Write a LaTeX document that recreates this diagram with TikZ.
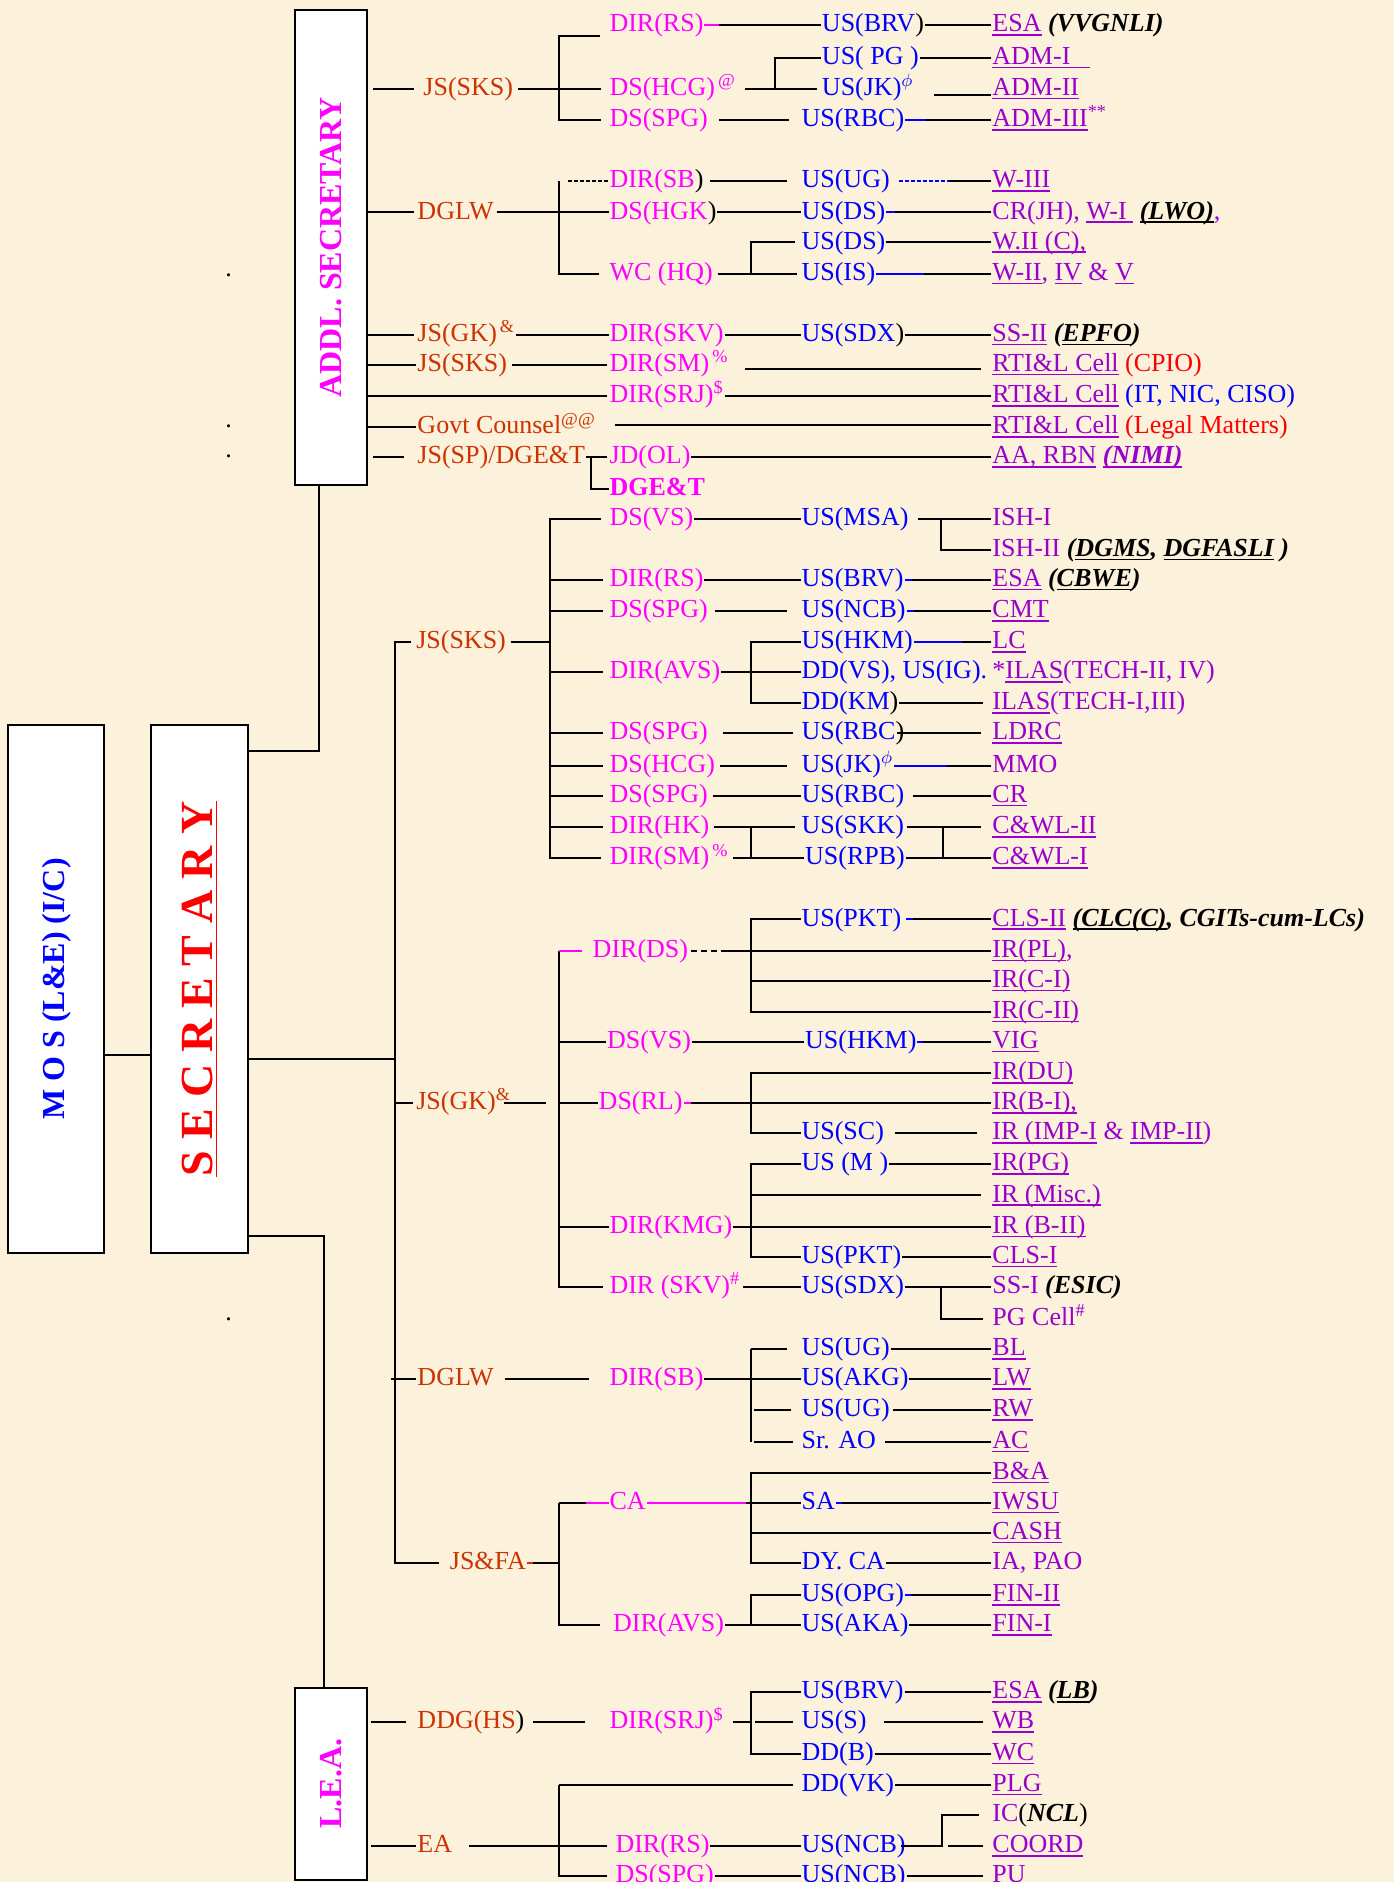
\documentclass[tikz,border=0pt]{standalone}
\usepackage{fontspec}
\setmainfont{Liberation Serif}
\usepackage{graphicx}
\usepackage{xcolor}
\usepackage{tikz}
\usetikzlibrary{calc}

\definecolor{paper}{RGB}{252,242,220}
\definecolor{jscol}{RGB}{204,51,0}
\definecolor{dircol}{RGB}{255,0,255}
\definecolor{uscol}{RGB}{0,0,255}
\definecolor{seccol}{RGB}{153,0,204}
\definecolor{redcol}{RGB}{255,0,0}

% underline at a fixed depth, in the current colour
\newcommand{\undl}[1]{\setbox0\hbox{#1}\rlap{\rule[-2pt]{\wd0}{0.8pt}}\box0\relax}
\newcommand{\bi}[1]{\textbf{\textit{#1}}}

\tikzset{
  lbl/.style={anchor=west, inner sep=0pt, text height=0.66em, text depth=0pt},
  js/.style={lbl, text=jscol},
  dir/.style={lbl, text=dircol},
  us/.style={lbl, text=uscol},
  sect/.style={lbl, text=seccol},
  bx/.style={draw=black, line width=1pt, fill=white, inner sep=0pt},
}

\begin{document}
\begin{tikzpicture}[x=0.6pt, y=-0.6pt, line width=1pt, font=\fontsize{13}{15}\selectfont]
    \fill[paper] (0,0) rectangle (1161,1568);
    \useasboundingbox (0,0) rectangle (1161,1568);

    % boxes
    \node[bx, minimum width=48pt, minimum height=264pt, text=uscol, font=\bfseries\fontsize{16}{18}\selectfont] (mos) at (47,824) {\rotatebox{90}{M O S (L\&E) (I/C)}};
    \node[bx, minimum width=48.6pt, minimum height=264pt, text=redcol, font=\bfseries\fontsize{23}{26}\selectfont] (secy) at (166.5,824) {\rotatebox{90}{\underline{S E C R E T A R Y}}};
    \node[bx, minimum width=36pt, minimum height=237.6pt, text=dircol, font=\bfseries\fontsize{16}{18}\selectfont] (addl) at (276,206) {\rotatebox{90}{ADDL. SECRETARY}};
    \node[bx, minimum width=36pt, minimum height=96pt, text=dircol, font=\bfseries\fontsize{16}{18}\selectfont] (lea) at (276,1486) {\rotatebox{90}{L.E.A.}};

    \begin{scope}[yshift=-1.2pt]
    \node[lbl] (dot1) at (187,223) {.};
    \node[lbl] (dot2) at (187,349) {.};
    \node[lbl] (dot3) at (187,374) {.};
    \node[lbl] (dot4) at (187,1093) {.};

    % ---- addl. secretary
    \node[dir] (a-dirrs) at (507,19) {DIR(RS)};
    \node[us] (a-usbrv) at (684,19) {US(BRV{\color{black})}};
    \node[sect] (a-esa) at (826,19) {\undl{ESA} {\color{black}\bi{(VVGNLI)}}};
    \node[us] (a-uspg) at (684,46) {US( PG )};
    \node[sect] (a-adm1) at (826,46) {\undl{ADM-I\ \ \ }};
    \node[js] (a-jssks) at (352,72) {JS(SKS)};
    \node[dir] (a-dshcg) at (507,72) {DS(HCG)\textsuperscript{\,@}};
    \node[us] (a-usjk) at (684,72) {US(JK)$^\phi$};
    \node[sect] (a-adm2) at (826,72) {\undl{ADM-II}};
    \node[dir] (a-dsspg) at (507,98) {DS(SPG)};
    \node[us] (a-usrbc) at (667,98) {US(RBC)};
    \node[sect] (a-adm3) at (826,98) {\undl{ADM-III}\textsuperscript{**}};

    \node[js] (a-dglw) at (347,175) {DGLW};
    \node[dir] (a-dirsb) at (507,149) {DIR(SB{\color{black})}};
    \node[us] (a-usug) at (667,149) {US(UG)};
    \node[sect] (a-w3) at (826,149) {\undl{W-III}};
    \node[dir] (a-dshgk) at (507,175) {DS(HGK{\color{black})}};
    \node[us] (a-usds) at (667,175) {US(DS)};
    \node[sect] (a-w1) at (826,175) {CR(JH), \undl{W-I\ } {\color{black}\undl{\bi{(LWO)}}},};
    \node[us] (a-usds2) at (667,200) {US(DS)};
    \node[sect] (a-w2c) at (826,200) {\undl{W.II (C),}};
    \node[dir] (a-wchq) at (507,226) {WC (HQ)};
    \node[us] (a-usis) at (667,226) {US(IS)};
    \node[sect] (a-w2) at (826,226) {\undl{W-II}, \undl{IV} \& \undl{V}};

    \node[js] (a-jsgk) at (347,277) {JS(GK)\textsuperscript{\,\&}};
    \node[dir] (a-dirskv) at (507,277) {DIR(SKV)};
    \node[us] (a-ussdx) at (667,277) {US(SDX{\color{black})}};
    \node[sect] (a-ss2) at (826,277) {\undl{SS-II} {\color{black}\bi{(\undl{EPFO})}}};
    \node[js] (a-jssks2) at (347,302) {JS(SKS)};
    \node[dir] (a-dirsm) at (507,302) {DIR(SM)\textsuperscript{\,\%}};
    \node[sect] (a-rti1) at (826,302) {\undl{RTI\&L Cell} {\color{redcol}(CPIO)}};
    \node[dir] (a-dirsrj) at (507,328) {DIR(SRJ)\textsuperscript{\$}};
    \node[sect] (a-rti2) at (826,328) {\undl{RTI\&L Cell} {\color{uscol}(IT, NIC, CISO)}};
    \node[js] (a-govt) at (347,354) {Govt Counsel\textsuperscript{@@}};
    \node[sect] (a-rti3) at (826,354) {\undl{RTI\&L Cell} {\color{redcol}(Legal Matters)}};
    \node[js] (a-jssp) at (347,379) {JS(SP)/DGE\&T};
    \node[dir] (a-jdol) at (507,379) {JD(OL)};
    \node[sect] (a-aa) at (826,379) {\undl{AA, RBN} \undl{\bi{(NIMI)}}};
    \node[dir, font=\fontsize{13}{15}\selectfont\bfseries] (a-dget) at (507,405) {DGE\&T};

    % ---- JS(SKS)
    \node[js] (b-jssks) at (346,533) {JS(SKS)};
    \node[dir] (b-dsvs) at (507,430) {DS(VS)};
    \node[us] (b-usmsa) at (667,430) {US(MSA)};
    \node[sect] (b-ish1) at (826,430) {ISH-I};
    \node[sect] (b-ish2) at (826,456) {ISH-II {\color{black}\bi{(\undl{DGMS}, \undl{DGFASLI} )}}};
    \node[dir] (b-dirrs) at (507,481) {DIR(RS)};
    \node[us] (b-usbrv) at (667,481) {US(BRV)};
    \node[sect] (b-esa) at (826,481) {\undl{ESA} {\color{black}\bi{(\undl{CBWE})}}};
    \node[dir] (b-dsspg) at (507,507) {DS(SPG)};
    \node[us] (b-usncb) at (667,507) {US(NCB)};
    \node[sect] (b-cmt) at (826,507) {\undl{CMT}};
    \node[us] (b-ushkm) at (667,533) {US(HKM)};
    \node[sect] (b-lc) at (826,533) {\undl{LC}};
    \node[dir] (b-diravs) at (507,558) {DIR(AVS)};
    \node[us] (b-ddvs) at (667,558) {DD(VS), US(IG).};
    \node[sect] (b-ilas1) at (826,558) {*\undl{ILAS}(TECH-II, IV)};
    \node[us] (b-ddkm) at (667,584) {DD(KM{\color{black})}};
    \node[sect] (b-ilas2) at (826,584) {\undl{ILAS}(TECH-I,III)};
    \node[dir] (b-dsspg2) at (507,609) {DS(SPG)};
    \node[us] (b-usrbc) at (667,609) {US(RBC{\color{black})}};
    \node[sect] (b-ldrc) at (826,609) {\undl{LDRC}};
    \node[dir] (b-dshcg) at (507,636) {DS(HCG)};
    \node[us] (b-usjk) at (667,636) {US(JK)$^\phi$};
    \node[sect] (b-mmo) at (826,636) {MMO};
    \node[dir] (b-dsspg3) at (507,661) {DS(SPG)};
    \node[us] (b-usrbc2) at (667,661) {US(RBC)};
    \node[sect] (b-cr) at (826,661) {\undl{CR}};
    \node[dir] (b-dirhk) at (507,687) {DIR(HK)};
    \node[us] (b-usskk) at (667,687) {US(SKK)};
    \node[sect] (b-cwl2) at (826,687) {\undl{C\&WL-II}};
    \node[dir] (b-dirsm) at (507,713) {DIR(SM)\textsuperscript{\,\%}};
    \node[us] (b-usrpb) at (670,713) {US(RPB)};
    \node[sect] (b-cwl1) at (826,713) {\undl{C\&WL-I}};

    % ---- JS(GK)
    \node[js] (c-jsgk) at (346,917) {JS(GK)\textsuperscript{\&}};
    \node[us] (c-uspkt) at (667,764) {US(PKT)};
    \node[sect] (c-cls2) at (826,764) {\undl{CLS-II} {\color{black}\bi{\undl{(CLC(C)}, CGITs-cum-LCs)}}};
    \node[dir] (c-dirds) at (493,790) {DIR(DS)};
    \node[sect] (c-irpl) at (826,790) {\undl{IR(PL)},};
    \node[sect] (c-irc1) at (826,815) {\undl{IR(C-I)}};
    \node[sect] (c-irc2) at (826,841) {\undl{IR(C-II)}};
    \node[dir] (c-dsvs) at (505,866) {DS(VS)};
    \node[us] (c-ushkm) at (670,866) {US(HKM)};
    \node[sect] (c-vig) at (826,866) {\undl{VIG}};
    \node[sect] (c-irdu) at (826,892) {\undl{IR(DU)}};
    \node[dir] (c-dsrl) at (498,917) {DS(RL)};
    \node[sect] (c-irb1) at (826,917) {\undl{IR(B-I),}};
    \node[us] (c-ussc) at (667,942) {US(SC)};
    \node[sect] (c-irimp) at (826,942) {\undl{IR (IMP-I} \& \undl{IMP-II})};
    \node[us] (c-usm) at (667,968) {US (M )};
    \node[sect] (c-irpg) at (826,968) {\undl{IR(PG)}};
    \node[sect] (c-irmisc) at (826,994) {\undl{IR (Misc.)}};
    \node[dir] (c-dirkmg) at (507,1020) {DIR(KMG)};
    \node[sect] (c-irb2) at (826,1020) {\undl{IR (B-II)}};
    \node[us] (c-uspkt2) at (667,1045) {US(PKT)};
    \node[sect] (c-cls1) at (826,1045) {\undl{CLS-I}};
    \node[dir] (c-dirskv) at (507,1070) {DIR (SKV)\textsuperscript{\#}};
    \node[us] (c-ussdx) at (667,1070) {US(SDX)};
    \node[sect] (c-ss1) at (826,1070) {SS-I {\color{black}\bi{(ESIC)}}};
    \node[sect] (c-pgcell) at (826,1097) {PG Cell\textsuperscript{\#}};

    % ---- DGLW
    \node[js] (d-dglw) at (347,1147) {DGLW};
    \node[dir] (d-dirsb) at (507,1147) {DIR(SB)};
    \node[us] (d-usug) at (667,1122) {US(UG)};
    \node[sect] (d-bl) at (826,1122) {\undl{BL}};
    \node[us] (d-usakg) at (667,1147) {US(AKG)};
    \node[sect] (d-lw) at (826,1147) {\undl{LW}};
    \node[us] (d-usug2) at (667,1173) {US(UG)};
    \node[sect] (d-rw) at (826,1173) {\undl{RW}};
    \node[us] (d-srao) at (667,1199) {Sr. AO};
    \node[sect] (d-ac) at (826,1199) {\undl{AC}};

    % ---- JS&FA
    \node[js] (e-jsfa) at (374,1300) {JS\&FA};
    \node[dir] (e-ca) at (507,1250) {CA};
    \node[sect] (e-ba) at (826,1225) {\undl{B\&A}};
    \node[us] (e-sa) at (667,1250) {SA};
    \node[sect] (e-iwsu) at (826,1250) {\undl{IWSU}};
    \node[sect] (e-cash) at (826,1275) {\undl{CASH}};
    \node[us] (e-dyca) at (667,1300) {DY. CA};
    \node[sect] (e-iapao) at (826,1300) {IA, PAO};
    \node[dir] (e-diravs) at (510,1352) {DIR(AVS)};
    \node[us] (e-usopg) at (667,1327) {US(OPG)};
    \node[sect] (e-fin2) at (826,1327) {\undl{FIN-II}};
    \node[us] (e-usaka) at (667,1352) {US(AKA)};
    \node[sect] (e-fin1) at (826,1352) {\undl{FIN-I}};

    % ---- L.E.A.
    \node[js] (f-ddghs) at (347,1433) {DDG(HS{\color{black})}};
    \node[dir] (f-dirsrj) at (507,1433) {DIR(SRJ)\textsuperscript{\$}};
    \node[us] (f-usbrv) at (667,1408) {US(BRV)};
    \node[sect] (f-esa) at (826,1408) {\undl{ESA} {\color{black}\bi{(\undl{LB})}}};
    \node[us] (f-uss) at (667,1433) {US(S)};
    \node[sect] (f-wb) at (826,1433) {\undl{WB}};
    \node[us] (f-ddb) at (667,1459) {DD(B)};
    \node[sect] (f-wc) at (826,1459) {\undl{WC}};
    \node[us] (f-ddvk) at (667,1485) {DD(VK)};
    \node[sect] (f-plg) at (826,1485) {\undl{PLG}};
    \node[js] (f-ea) at (347,1536) {EA};
    \node[dir] (f-dirrs) at (512,1536) {DIR(RS)};
    \node[us] (f-usncb) at (667,1536) {US(NCB)};
    \node[sect] (f-ic) at (826,1510) {IC{\color{black}(\bi{NCL})}};
    \node[sect] (f-coord) at (826,1536) {\undl{COORD}};
    \node[dir] (f-dsspg) at (512,1561) {DS(SPG)};
    \node[us] (f-usncb2) at (667,1561) {US(NCB)};
    \node[sect] (f-pu) at (826,1561) {\undl{PU}};

    % junction points
    \coordinate (m-link) at (100,877);
    \coordinate (t-top) at (329,533);
    \coordinate (t-mid) at (329,880);
    \coordinate (t-bot) at (329,1300);
    \coordinate (s-up) at (266,624);
    \coordinate (s-dn) at (270,1028);
    \coordinate (a-k1) at (466,28);
    \coordinate (a-k3) at (646,46);
    \coordinate (a-k4) at (466,149);
    \coordinate (a-k5) at (626,200);
    \coordinate (a-k6) at (492,379);
    \coordinate (b-k) at (458,430);
    \coordinate (b-k2) at (784,430);
    \coordinate (b-k3) at (626,533);
    \coordinate (b-k4) at (626,687);
    \coordinate (b-k5) at (786,687);
    \coordinate (c-k0) at (455,917);
    \coordinate (c-k) at (466,790);
    \coordinate (c-k2) at (626,764);
    \coordinate (c-k3) at (626,892);
    \coordinate (c-k4) at (626,968);
    \coordinate (c-k5) at (784,1070);
    \coordinate (d-k) at (626,1122);
    \coordinate (e-k) at (466,1250);
    \coordinate (e-k2) at (626,1225);
    \coordinate (e-k3) at (626,1327);
    \coordinate (f-k) at (626,1408);
    \coordinate (f-k2) at (466,1485);
    \coordinate (f-k3) at (785,1510);
    \end{scope}

    % box links
    \draw (mos.east |- m-link) -- (secy.west |- m-link);
    \draw (secy.east |- t-mid) -- (t-mid);
    \draw (secy.east |- s-up) -- (s-up) -- (s-up |- addl.south);
    \draw (secy.east |- s-dn) -- (s-dn) -- (s-dn |- lea.north);
    \draw ([xshift=-2pt]b-jssks.west) -| (t-bot) -- ([xshift=-5pt]e-jsfa.west);
    \draw (t-top |- c-jsgk.west) -- ([xshift=-1pt]c-jsgk.west);
    \draw (t-top |- d-dglw.west) ++(-3,0) -- (d-dglw.west);

    % addl. secretary links
    \draw (addl.east |- a-jssks.west) ++(4,0) -- ([xshift=-4pt]a-jssks.west);
    \draw ([xshift=2pt]a-jssks.east) -- (a-jssks.east -| a-k1);
    \draw (a-k1) ++(34,0) -- (a-k1) |- ([xshift=-4pt]a-dsspg.west);
    \draw (a-dshcg.west -| a-k1) -- ([xshift=-4pt]a-dshcg.west);
    \draw[dircol] (a-dirrs.east) -- ++(12,0) coordinate (a-m1);
    \draw (a-m1) -- (a-usbrv.west);
    \draw (a-usbrv.east) -- (a-esa.west);
    \draw ([xshift=4pt]a-dshcg.east) -- ([xshift=-2pt]a-usjk.west);
    \draw (a-usjk.west -| a-k3) -- (a-k3) -- (a-uspg.west);
    \draw (a-uspg.east) -- (a-adm1.west);
    \draw ([xshift=10pt,yshift=-3pt]a-usjk.east) -- ([yshift=-3pt]a-adm2.west);
    \draw ([xshift=5pt]a-dsspg.east) -- ([xshift=-6pt]a-usrbc.west);
    \draw[uscol] (a-usrbc.east) -- ++(17,0) coordinate (a-m2);
    \draw (a-m2) -- (a-adm3.west);

    \draw (addl.east |- a-dglw.west) -- ([xshift=-1pt]a-dglw.west);
    \draw ([xshift=1pt]a-dglw.east) -- (a-dglw.east -| a-k4);
    \draw (a-k4) |- ([xshift=-5pt]a-wchq.west);
    \draw[dash pattern=on 2pt off 1pt] (a-k4) ++(7,0) -- (a-dirsb.west);
    \draw (a-dshgk.west -| a-k4) -- (a-dshgk.west);
    \draw ([xshift=3pt]a-dirsb.east) -- ([xshift=-7pt]a-usug.west);
    \draw[uscol, dash pattern=on 2pt off 1pt] ([xshift=4pt]a-usug.east) -- ++(42,0) coordinate (a-m3);
    \draw (a-m3) -- (a-w3.west);
    \draw (a-dshgk.east) -- (a-usds.west);
    \draw[uscol] (a-usds.east) -- ++(7,0) coordinate (a-m4);
    \draw (a-m4) -- (a-w1.west);
    \draw ([xshift=2pt]a-wchq.east) -- ([xshift=-2pt]a-usis.west);
    \draw (a-usis.west -| a-k5) -- (a-k5) -- ([xshift=-3pt]a-usds2.west);
    \draw (a-usds2.east) -- (a-w2c.west);
    \draw[uscol] (a-usis.east) -- ++(40,0) coordinate (a-m5);
    \draw (a-m5) -- (a-w2.west);

    \draw (addl.east |- a-jsgk.west) -- ([xshift=-1pt]a-jsgk.west);
    \draw (a-jsgk.east) -- (a-dirskv.west);
    \draw (a-dirskv.east) -- (a-ussdx.west);
    \draw (a-ussdx.east) -- (a-ss2.west);
    \draw (addl.east |- a-jssks2.west) -- (a-jssks2.west);
    \draw ([xshift=2pt]a-jssks2.east) -- ([xshift=-1pt]a-dirsm.west);
    \draw ([xshift=8pt,yshift=-2pt]a-dirsm.east) -- ([xshift=-5pt,yshift=-2pt]a-rti1.west);
    \draw (addl.east |- a-dirsrj.west) -- ([xshift=-1pt]a-dirsrj.west);
    \draw (a-dirsrj.east) -- (a-rti2.west);
    \draw (addl.east |- a-govt.west) -- (a-govt.west);
    \draw ([xshift=9pt,yshift=1pt]a-govt.east) -- ([yshift=1pt]a-rti3.west);
    \draw (addl.east |- a-jssp.west) ++(4,0) -- ([xshift=-6pt]a-jssp.west);
    \draw (a-jssp.east) -- ([xshift=-1pt]a-jdol.west);
    \draw (a-k6) |- (a-dget.west);
    \draw (a-jdol.east) -- (a-aa.west);

    % JS(SKS) links
    \draw ([xshift=2pt]b-jssks.east) -- (b-jssks.east -| b-k);
    \draw ([xshift=-4pt]b-dsvs.west) -- (b-k) |- ([xshift=-4pt]b-dirsm.west);
    \foreach \n in {b-dirrs,b-dsspg,b-diravs,b-dsspg2,b-dshcg,b-dsspg3,b-dirhk}
      \draw (\n.west -| b-k) -- ([xshift=-3pt]\n.west);
    \draw (b-dsvs.east) -- (b-usmsa.west);
    \draw ([xshift=4pt]b-usmsa.east) -- (b-ish1.west);
    \draw (b-k2) |- (b-ish2.west);
    \draw (b-dirrs.east) -- (b-usbrv.west);
    \draw[uscol] (b-usbrv.east) -- ++(6,0) coordinate (b-m1);
    \draw (b-m1) -- (b-esa.west);
    \draw ([xshift=3pt]b-dsspg.east) -- ([xshift=-7pt]b-usncb.west);
    \draw[uscol] (b-usncb.east) -- ++(6,0) coordinate (b-m2);
    \draw (b-m2) -- (b-cmt.west);
    \draw (b-diravs.east) -- (b-diravs.east -| b-k3);
    \draw (b-ushkm.west) -| (b-ddkm.west -| b-k3) -- (b-ddkm.west);
    \draw (b-diravs.west -| b-k3) -- (b-ddvs.west);
    \draw[uscol] (b-ushkm.east) -- ++(40,0) coordinate (b-m3);
    \draw (b-m3) -- (b-lc.west);
    \draw (b-ddkm.east) -- ([xshift=-4pt]b-ilas2.west);
    \draw ([xshift=7pt]b-dsspg2.east) -- ([xshift=-4pt]b-usrbc.west);
    \draw ([xshift=-4pt]b-usrbc.east) -- ([xshift=-5pt]b-ldrc.west);
    \draw ([xshift=2pt]b-dshcg.east) -- ([xshift=-7pt]b-usjk.west);
    \draw[uscol] (b-usjk.east) -- ++(44,0) coordinate (b-m4);
    \draw (b-m4) -- (b-mmo.west);
    \draw ([xshift=2pt]b-dsspg3.east) -- (b-usrbc2.west);
    \draw ([xshift=4pt]b-usrbc2.east) -- (b-cr.west);
    \draw ([xshift=2pt]b-dirhk.east) -- ([xshift=-3pt]b-usskk.west);
    \draw ([xshift=2pt]b-dirsm.east) -- (b-usrpb.west);
    \draw (b-k4) -- (b-k4 |- b-usrpb.west);
    \draw ([xshift=1pt]b-usskk.east) -- ([xshift=-5pt]b-cwl2.west);
    \draw (b-usrpb.east) -- (b-cwl1.west);
    \draw (b-k5) -- (b-k5 |- b-cwl1.west);

    % JS(GK) links
    \draw ([xshift=-4pt]c-jsgk.east) -- (c-k0);
    \draw (c-k) |- ([xshift=-3pt]c-dirskv.west);
    \draw[dircol] (c-k) -- ([xshift=-5pt]c-dirds.west);
    \foreach \n in {c-dsvs,c-dsrl,c-dirkmg}
      \draw (\n.west -| c-k) -- (\n.west);
    \draw[densely dashed] ([xshift=1pt]c-dirds.east) -- ++(30,0) coordinate (c-m1);
    \draw (c-m1) -- (c-irpl.west);
    \draw (c-uspkt.west) -| (c-irc2.west -| c-k2) -- (c-irc2.west);
    \draw (c-irc1.west -| c-k2) -- (c-irc1.west);
    \draw[uscol] ([xshift=2pt]c-uspkt.east) -- ++(6,0) coordinate (c-m2);
    \draw (c-m2) -- (c-cls2.west);
    \draw (c-dsvs.east) -- (c-ushkm.west);
    \draw[uscol] (c-ushkm.east) -- ++(5,0) coordinate (c-m4);
    \draw (c-m4) -- (c-vig.west);
    \draw[dircol] (c-dsrl.east) -- ++(6,0) coordinate (c-m3);
    \draw (c-m3) -- (c-irb1.west);
    \draw (c-ussc.west) -| (c-k3) -- (c-irdu.west);
    \draw ([xshift=5pt]c-ussc.east) -- ([xshift=-7pt]c-irimp.west);
    \draw (c-usm.west) -| (c-uspkt2.west -| c-k4) -- (c-uspkt2.west);
    \draw (c-irmisc.west -| c-k4) -- ([xshift=-5pt]c-irmisc.west);
    \draw (c-dirkmg.east) -- (c-irb2.west);
    \draw (c-usm.east) -- (c-irpg.west);
    \draw (c-uspkt2.east) -- (c-cls1.west);
    \draw ([xshift=1pt]c-dirskv.east) -- (c-ussdx.west);
    \draw (c-ussdx.east) -- (c-ss1.west);
    \draw (c-k5) |- ([xshift=-4pt]c-pgcell.west);

    % DGLW links
    \draw ([xshift=5pt]d-dglw.east) -- ([xshift=-10pt]d-dirsb.west);
    \draw (d-dirsb.east) -- (d-dirsb.east -| d-k);
    \draw (d-k) -- (d-srao.west -| d-k);
    \draw (d-k) -- ([xshift=-7pt]d-usug.west);
    \draw (d-usakg.west -| d-k) -- (d-usakg.west);
    \draw (d-usug2.west -| d-k) ++(2,0) -- ([xshift=-5pt]d-usug2.west);
    \draw (d-srao.west -| d-k) ++(2,0) -- ([xshift=-4pt]d-srao.west);
    \draw (d-usug.east) -- (d-bl.west);
    \draw (d-usakg.east) -- (d-lw.west);
    \draw ([xshift=1pt]d-usug2.east) -- (d-rw.west);
    \draw ([xshift=4pt]d-srao.east) -- (d-ac.west);

    % JS&FA links
    \draw[jscol] (e-jsfa.east) -- ++(5,0) coordinate (e-m1);
    \draw (e-m1) -- (e-m1 -| e-k);
    \draw (e-k) -- ++(22,0) coordinate (e-m2);
    \draw[dircol] (e-m2) -- (e-ca.west);
    \draw (e-k) |- ([xshift=-6pt]e-diravs.west);
    \draw[dircol] (e-ca.east) -- ++(83,0) coordinate (e-m3);
    \draw (e-m3) -- (e-sa.west);
    \draw (e-ba.west) -| (e-dyca.west -| e-k2) -- (e-dyca.west);
    \draw (e-cash.west -| e-k2) -- (e-cash.west);
    \draw[uscol] (e-sa.east) -- ++(5,0) coordinate (e-m4);
    \draw (e-m4) -- (e-iwsu.west);
    \draw (e-dyca.east) -- (e-iapao.west);
    \draw (e-diravs.east) -- (e-diravs.east -| e-k3);
    \draw (e-usopg.west) -| (e-usaka.west -| e-k3) -- (e-usaka.west);
    \draw[uscol] (e-usopg.east) -- ++(5,0) coordinate (e-m5);
    \draw (e-m5) -- (e-fin2.west);
    \draw (e-usaka.east) -- (e-fin1.west);

    % L.E.A. links
    \draw (lea.east |- f-ddghs.west) ++(2,0) -- ([xshift=-5pt]f-ddghs.west);
    \draw ([xshift=4pt]f-ddghs.east) -- ([xshift=-12pt]f-dirsrj.west);
    \draw ([xshift=4pt]f-dirsrj.east) -- (f-dirsrj.east -| f-k);
    \draw (f-usbrv.west) -| (f-ddb.west -| f-k) -- (f-ddb.west);
    \draw (f-uss.west -| f-k) ++(3,0) -- ([xshift=-4pt]f-uss.west);
    \draw (f-usbrv.east) -- (f-esa.west);
    \draw ([xshift=8pt]f-uss.east) -- ([xshift=-4pt]f-wb.west);
    \draw (f-ddb.east) -- (f-wc.west);
    \draw (f-ddvk.east) -- (f-plg.west);
    \draw (f-k2) -- ([xshift=-4pt]f-ddvk.west);
    \draw (f-k2) |- ([xshift=-4pt]f-dsspg.west);
    \draw (lea.east |- f-ea.west) ++(2,0) -- (f-ea.west);
    \draw ([xshift=8pt]f-ea.east) -- ([xshift=-4pt]f-dirrs.west);
    \draw (f-dirrs.east) -- (f-usncb.west);
    \draw ([xshift=-3pt]f-usncb.east) -- (f-usncb.east -| f-k3) -- (f-k3) -- ([xshift=-6pt]f-ic.west);
    \draw (f-usncb.east -| f-k3) ++(5,0) -- ([xshift=-4pt]f-coord.west);
    \draw (f-dsspg.east) -- (f-usncb2.west);
    \draw (f-usncb2.east) -- ([xshift=-4pt]f-pu.west);
\end{tikzpicture}
\end{document}
